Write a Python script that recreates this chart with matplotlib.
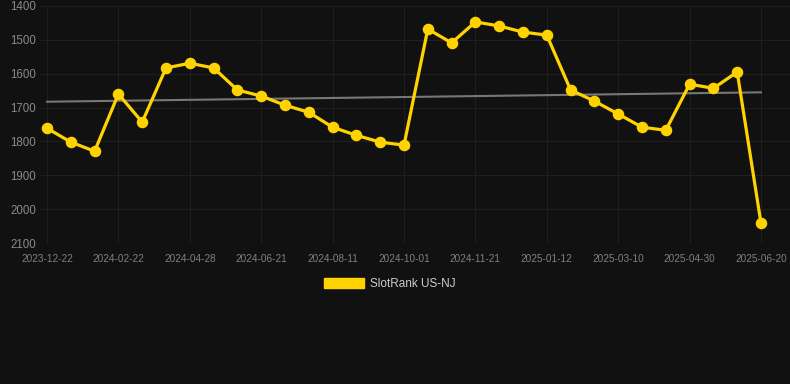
import numpy as np
import matplotlib.pyplot as plt

# rank values (lower is better, axis inverted)
ranks = [1761, 1802, 1829, 1660, 1743, 1583, 1569, 1583, 1648, 1666,
         1693, 1714, 1758, 1782, 1802, 1811, 1468, 1509, 1447, 1459,
         1477, 1486, 1648, 1681, 1719, 1758, 1767, 1631, 1643, 1595, 2042]
tick_labels = ['2023-12-22', '2024-02-22', '2024-04-28', '2024-06-21',
               '2024-08-11', '2024-10-01', '2024-11-21', '2025-01-12',
               '2025-03-10', '2025-04-30', '2025-06-20']
y_ticks = [1400, 1500, 1600, 1700, 1800, 1900, 2000, 2100]

bg = '#111111'
x = np.arange(len(ranks))

fig = plt.figure(figsize=(7.9, 3.84), dpi=100, facecolor=bg)
ax = fig.add_axes([40/790, 1-243/384, 750/790, 237/384], facecolor=bg)

# trend line
k, b = np.polyfit(x, ranks, 1)
ax.plot(x, k*x + b, color='#777777', linewidth=1.5, zorder=2)

ax.plot(x, ranks, color='#FFD300', linewidth=2.3, marker='o', markersize=7.3,
        zorder=3, label='SlotRank US-NJ')

ax.set_ylim(2100, 1400)
ax.set_xlim(-7/23.8, 30 + 29/23.8)
ax.set_yticks(y_ticks)
ax.set_xticks(x[::3])
ax.set_xticklabels(tick_labels)
ax.grid(True, color='#1f1f1f', linewidth=0.8)
ax.set_axisbelow(True)
for s in ax.spines.values():
    s.set_visible(False)
ax.tick_params(axis='x', length=0, pad=8, labelsize=7.2, labelcolor='#808080')
ax.tick_params(axis='y', length=0, pad=3, labelsize=8.3, labelcolor='#8a8a8a')
for lab in ax.get_xticklabels() + ax.get_yticklabels():
    lab.set_family('Liberation Sans')

leg = fig.legend(handles=[plt.Rectangle((0, 0), 1, 1, color='#FFD300')],
                 labels=['SlotRank US-NJ'], loc='center',
                 bbox_to_anchor=(390/790, 1-284/384), frameon=False,
                 handlelength=3.4, handleheight=1.0, handletextpad=0.5,
                 prop={'family': 'Liberation Sans', 'size': 8.5})
for t in leg.get_texts():
    t.set_color('#cccccc')

fig.savefig('out.png', dpi=100, facecolor=bg)
